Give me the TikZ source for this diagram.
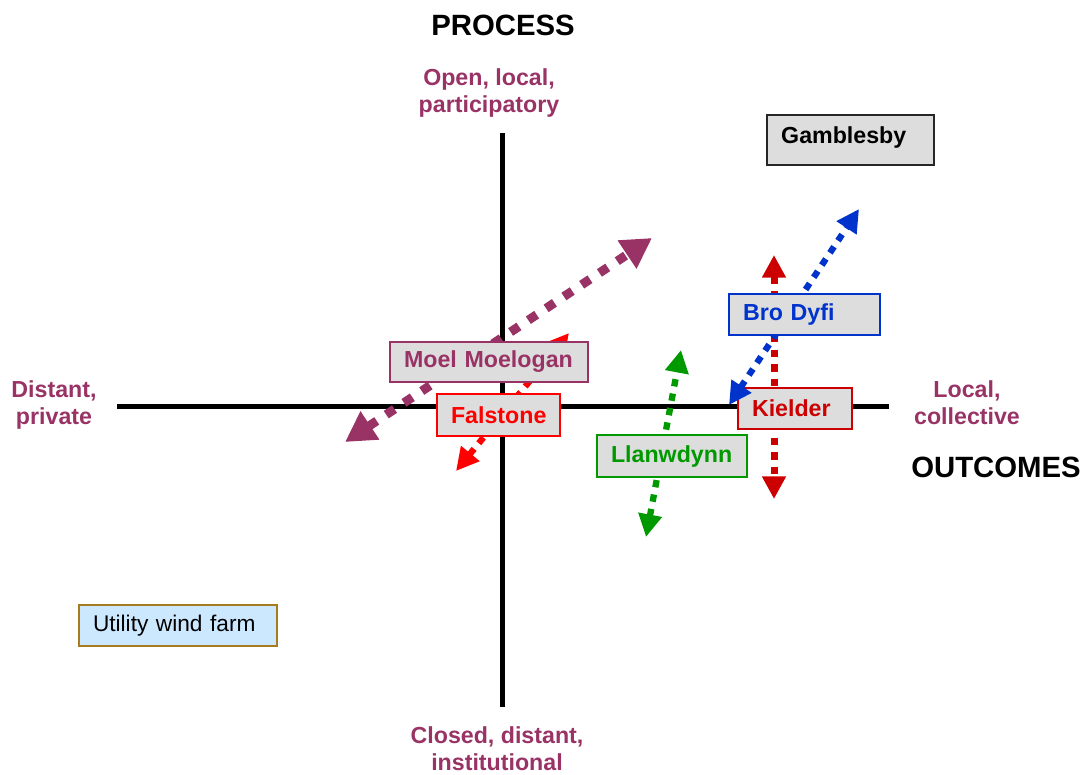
\documentclass[tikz,border=0pt]{standalone}
\usepackage{fontspec}
\setmainfont{Liberation Sans}
\usetikzlibrary{arrows.meta}
\hyphenpenalty=10000
\exhyphenpenalty=10000
\definecolor{plum}{HTML}{993366}
\definecolor{boxgray}{HTML}{DDDDDD}
\definecolor{bdblue}{HTML}{0033CC}
\definecolor{fred}{HTML}{FF0000}
\definecolor{kred}{HTML}{CC0000}
\definecolor{lgreen}{HTML}{009900}
\definecolor{ublue}{HTML}{CCE8FF}
\definecolor{ubrown}{HTML}{A67C1E}
\tikzset{
  axis/.style={line width=3.75pt, black},
  title/.style={font=\bfseries\fontsize{22}{26}\selectfont, text=black, inner sep=0pt},
  pole/.style={font=\bfseries\fontsize{17.4}{20.25}\selectfont, text=plum, align=center, inner sep=0pt},
  box/.style={draw, line width=1.5pt, fill=boxgray, anchor=north west, inner xsep=10.5pt, inner ysep=0pt,
    align=left, font=\bfseries\fontsize{17.4}{20}\selectfont},
  bigarrow/.style={line width=6.75pt, dash pattern=on 7.5pt off 8.5pt, {Triangle[length=22.5pt,width=24pt]}-{Triangle[length=22.5pt,width=24pt]}},
  thinarrow/.style={line width=4.75pt, dash pattern=on 5.5pt off 5.5pt, {Triangle[length=17pt,width=17pt]}-{Triangle[length=17pt,width=17pt]}}
}
\begin{document}
\begin{tikzpicture}[x=0.75pt,y=-0.75pt]
\useasboundingbox (0,0) rectangle (1084,774);
% axes
\coordinate (vtop) at (502,133);
\coordinate (vbot) at (502,707);
\coordinate (hl) at (117,406);
\coordinate (hr) at (889,406);
\draw[axis] (vtop) -- (vbot);
\draw[axis] (hl) -- (hr);
% titles and poles
\node[title] (process) at (503,25) {PROCESS};
\node[title] (outcomes) at (996,467) {OUTCOMES};
\node[pole] (open) at (489,93) {Open, local,\\participatory};
\node[pole] (closed) at (497,749) {Closed, distant,\\institutional};
\node[pole] (distant) at (54,405) {Distant,\\private};
\node[pole] (local) at (967,402.5) {Local,\\collective};
% arrow end points
\coordinate (mmA) at (345,442);
\coordinate (mmB) at (652,238);
\coordinate (faA) at (456,471);
\coordinate (faB) at (569,333);
\coordinate (llA) at (646,537);
\coordinate (llB) at (681,350);
\coordinate (bdA) at (729,405);
\coordinate (bdB) at (859,209);
\coordinate (kiA) at (774,255);
\coordinate (kiB) at (774,499);
% Moel Moelogan and Falstone
\draw[bigarrow, plum] (mmA) -- (mmB);
\draw[thinarrow, fred] (faA) -- (faB);
\node[box, draw=plum, text=plum, text width=127.5pt, minimum height=30pt] (moel) at (389,341) {Moel Moelogan};
\node[box, draw=fred, text=fred, text width=71.25pt, minimum height=31.5pt] (falstone) at (436,393) {Falstone};
% Kielder and Bro Dyfi
\draw[thinarrow, kred, line width=5.25pt] (kiA) -- (kiB);
\node[box, draw=kred, text=kred, text width=64.5pt, minimum height=30.75pt] (kielder) at (737,387) {Kielder};
\draw[thinarrow, bdblue] (bdA) -- (bdB);
\node[box, draw=bdblue, text=bdblue, text width=92.25pt, minimum height=30.75pt] (brodyfi) at (728,293) {Bro Dyfi};
% Llanwdynn
\draw[thinarrow, lgreen] (llA) -- (llB);
\node[box, draw=lgreen, text=lgreen, text width=91.5pt, minimum height=31.5pt] (llanwdynn) at (596,434) {Llanwdynn};
% Gamblesby
\node[box, draw=black!85, text=black, line width=1.8pt, text width=104.25pt, minimum height=37.5pt] (gamblesby) at (766,114) {\raisebox{2.25pt}[\height][\depth]{Gamblesby}};
% Utility wind farm
\node[box, draw=ubrown, fill=ublue, text=black, font=\fontsize{17}{20}\selectfont, text width=127.5pt, minimum height=30.75pt] (utility) at (78,604) {Utility wind farm};
\end{tikzpicture}
\end{document}
